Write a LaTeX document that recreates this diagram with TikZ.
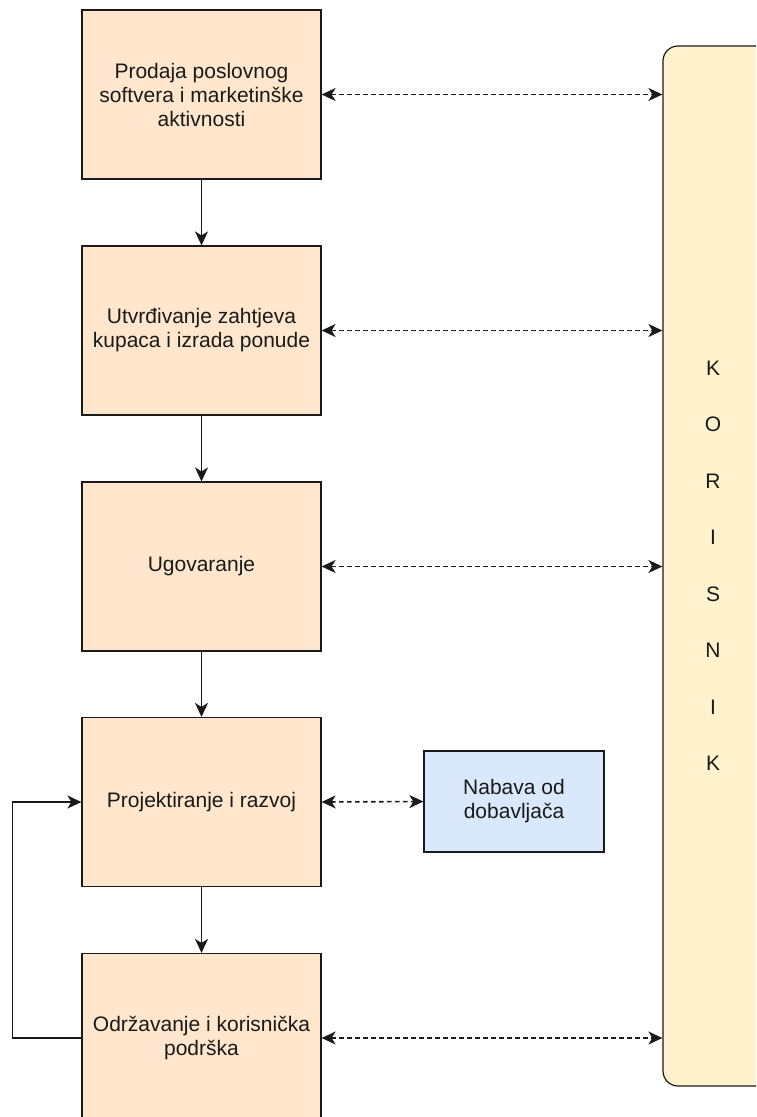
\documentclass[tikz,border=0pt]{standalone}
\usepackage{fontspec}
\setmainfont{Liberation Sans}
\usetikzlibrary{arrows.meta}
\definecolor{procfill}{HTML}{FFE6CC}
\definecolor{supfill}{HTML}{DAE8FC}
\definecolor{userfill}{HTML}{FFF2CC}
\definecolor{ink}{HTML}{1A1A1A}
\tikzset{
  proc/.style={draw=ink, line width=1.2pt, fill=procfill, minimum width=239pt, minimum height=169pt,
    align=center, inner sep=0pt, text=ink, font=\fontsize{21}{24}\selectfont},
  supbox/.style={draw=ink, line width=1.2pt, fill=supfill, minimum width=180pt, minimum height=101pt,
    align=center, inner sep=0pt, text=ink, font=\fontsize{21}{24}\selectfont},
  userbox/.style={draw=ink, line width=1.2pt, fill=userfill, minimum width=130pt, minimum height=1040pt,
    rounded corners=15pt, inner sep=0pt},
  userlabel/.style={align=center, inner sep=0pt, text=ink, font=\fontsize{21}{56.5}\selectfont},
  flow/.style={draw=ink, line width=1.6pt, -{Stealth[length=14pt, width=13pt, inset=4pt]}},
  link/.style={draw=ink, line width=1.6pt, dash pattern=on 4.5pt off 3.5pt,
    {Stealth[length=14pt, width=13pt, inset=4pt]}-{Stealth[length=14pt, width=13pt, inset=4pt]}}
}
\begin{document}
\begin{tikzpicture}[x=1pt,y=-1pt]
\clip (0,0) rectangle (756,1117);
\fill[white] (0,0) rectangle (756,1117);
\node[userbox] (user) at (728,566) {};
\node[userlabel] (userText) at (713,566) {K\\O\\R\\I\\S\\N\\I\\K};
\node[proc] (p1) at (201.5,94.5) {Prodaja poslovnog\\softvera i marketinške\\aktivnosti};
\node[proc] (p2) at (201.5,330.5) {Utvrđivanje zahtjeva\\kupaca i izrada ponude};
\node[proc] (p3) at (201.5,566.5) {Ugovaranje};
\node[proc] (p4) at (201.5,802) {Projektiranje i razvoj};
\node[proc] (p5) at (201.5,1038) {Održavanje i korisnička\\podrška};
\node[supbox] (sup) at (514,801.5) {Nabava od\\dobavljača};
\draw[flow] (p1) -- (p2);
\draw[flow] (p2) -- (p3);
\draw[flow] (p3) -- (p4);
\draw[flow] (p4) -- (p5);
\draw[flow] (p5.west) -- ++(-69,0) |- (p4.west);
\draw[link] (p1.east) -- (p1.east -| user.west);
\draw[link] (p2.east) -- (p2.east -| user.west);
\draw[link] (p3.east) -- (p3.east -| user.west);
\draw[link] (p5.east) -- (p5.east -| user.west);
\draw[link] (p4.east) -- (sup.west);
\end{tikzpicture}
\end{document}
